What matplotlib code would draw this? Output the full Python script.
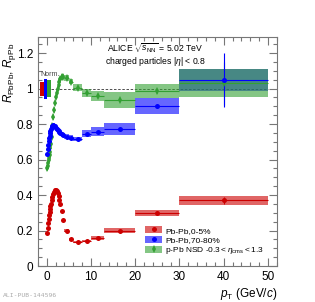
import numpy as np
import matplotlib.pyplot as plt
from matplotlib.patches import Rectangle, Patch
from matplotlib.lines import Line2D
from matplotlib.ticker import MultipleLocator

plt.rcParams['font.family'] = ['Liberation Sans', 'DejaVu Sans']
plt.rcParams['mathtext.fontset'] = 'custom'
plt.rcParams['mathtext.rm'] = 'Liberation Sans'
plt.rcParams['mathtext.it'] = 'Liberation Sans:italic'
plt.rcParams['mathtext.bf'] = 'Liberation Sans:bold'

# pT bin edges (GeV/c), same binning for all three samples
edges = [0.15, 0.2, 0.3, 0.4, 0.5, 0.6, 0.7, 0.8, 0.9, 1.0,
         1.2, 1.4, 1.6, 1.8, 2.0, 2.2, 2.4, 2.6, 2.8, 3.0, 3.2,
         3.6, 4.0, 5.0, 6.0, 8.0, 10.0, 13.0, 20.0, 30.0, 50.0]

# Pb-Pb 0-5%
raa_central = [0.184, 0.215, 0.245, 0.268, 0.288, 0.306, 0.322, 0.337, 0.35,
               0.37, 0.39, 0.408, 0.42, 0.428, 0.43, 0.422, 0.41, 0.395,
               0.375, 0.35, 0.31, 0.26, 0.20, 0.15, 0.135, 0.14, 0.16, 0.20,
               0.30, 0.37]
# Pb-Pb 70-80%
raa_periph = [0.63, 0.66, 0.685, 0.705, 0.72, 0.735, 0.748, 0.76, 0.77,
              0.782, 0.79, 0.794, 0.792, 0.787, 0.78, 0.772, 0.766, 0.76,
              0.755, 0.75, 0.745, 0.738, 0.73, 0.724, 0.718, 0.745, 0.758,
              0.77, 0.90, 1.048]
# p-Pb NSD
rppb = [0.55, 0.565, 0.58, 0.595, 0.61, 0.625, 0.645, 0.665, 0.69,
        0.73, 0.79, 0.84, 0.88, 0.92, 0.95, 0.975, 1.0, 1.02, 1.04,
        1.055, 1.065, 1.068, 1.06, 1.04, 1.005, 0.973, 0.96, 0.935,
        0.988, 1.03]

# systematic uncertainties
sys_central = [0.008] * 24 + [0.006, 0.007, 0.012, 0.014, 0.018, 0.025]
sys_periph = [0.012] * 25 + [0.019, 0.023, 0.034, 0.045, 0.06]
sys_ppb = [0.015] * 24 + [0.02, 0.023, 0.028, 0.045, 0.04, 0.08]

# statistical uncertainties
stat_central = [0.0] * 28 + [0.008, 0.02]
stat_periph = [0.0] * 28 + [0.01, 0.15]
stat_ppb = [0.0] * 28 + [0.01, 0.12]

# normalisation uncertainties (boxes at unity)
norm_unc = [0.04, 0.056, 0.049]
norm_x = [-1.4, -0.6, 0.15]
norm_w = [0.8, 0.6, 0.8]

labels = ['Pb-Pb,0-5%', 'Pb-Pb,70-80%',
          r'p-Pb NSD -0.3$<\eta_{\rm cms}<$1.3']

red = '#cc0000'
blue = '#0000ff'
green = '#33a033'

edges = np.array(edges)
centers = 0.5 * (edges[1:] + edges[:-1])
half = 0.5 * (edges[1:] - edges[:-1])

fig = plt.figure(figsize=(3.15, 3.02), dpi=100)
ax = fig.add_axes([0.12, 0.119, 0.759, 0.758])

series = [
    (raa_central, sys_central, stat_central, red, 'o', 3.6),
    (raa_periph, sys_periph, stat_periph, blue, 'o', 3.6),
    (rppb, sys_ppb, stat_ppb, green, 'd', 4.0),
]

# boxes first
for vals, sys, stat, col, mk, ms in series:
    for i in range(len(vals)):
        ax.add_patch(Rectangle((edges[i], vals[i] - sys[i]), 2 * half[i],
                               2 * sys[i], facecolor=col, alpha=0.6,
                               edgecolor='none', zorder=2))

for vals, sys, stat, col, mk, ms in series[::-1]:
    ax.errorbar(centers, vals, xerr=half, yerr=stat,
                fmt=mk, color=col, ms=ms, mew=0, elinewidth=0.8,
                capsize=0, zorder=4)

# normalisation boxes
for x0, w, u, col in zip(norm_x, norm_w, norm_unc, [red, blue, green]):
    ax.add_patch(Rectangle((x0, 1 - u), w, 2 * u, facecolor=col,
                           edgecolor='none', zorder=3))
ax.text(-1.5, 1.08, 'Norm.', fontsize=5, color='#444444', ha='left',
        va='center')

ax.hlines(1.0, 1.0, 50.0, colors='#333333', linestyles=(0, (3, 2)),
          linewidth=0.6, zorder=1)

ax.set_xlim(-2, 52)
ax.set_ylim(0, 1.29)
ax.xaxis.set_major_locator(MultipleLocator(10))
ax.xaxis.set_minor_locator(MultipleLocator(2))
ax.yaxis.set_major_locator(MultipleLocator(0.2))
ax.yaxis.set_minor_locator(MultipleLocator(0.05))
ax.yaxis.set_major_formatter(plt.FuncFormatter(
    lambda v, p: '0' if abs(v) < 1e-9 else ('1' if abs(v - 1) < 1e-9 else f'{v:.1f}')))
ax.tick_params(which='both', direction='in', top=True, right=True,
               color='#777777', labelsize=8.5, width=0.8)
ax.tick_params(which='major', length=6)
ax.tick_params(which='minor', length=3)
for s in ax.spines.values():
    s.set_color('#777777')
    s.set_linewidth(0.8)

ax.set_xlabel(r'$p_{\rm T}$ (GeV/$c$)', fontsize=8.5, ha='right', x=1.0,
              labelpad=2)
ax.set_ylabel(r'$R_{\rm PbPb}$, $R_{\rm pPb}$', fontsize=8.5, ha='right',
              va='center')
ax.yaxis.set_label_coords(-0.118, 0.975)

ax.text(0.49, 0.952, r'ALICE $\sqrt{s_{\rm NN}}$ = 5.02 TeV',
        transform=ax.transAxes, fontsize=6.2, ha='center', va='center')
ax.text(0.49, 0.893, r'charged particles |$\eta$| < 0.8',
        transform=ax.transAxes, fontsize=6.2, ha='center', va='center')

handles = []
for col, mk, ms in [(red, 'o', 3.6), (blue, 'o', 3.6), (green, 'd', 4.0)]:
    handles.append((Patch(facecolor=col, alpha=0.6, edgecolor='none'),
                    Line2D([], [], color=col, marker=mk, ls='', ms=ms, mew=0)))
ax.legend(handles, labels, loc='upper left', bbox_to_anchor=(0.45, 0.175),
          frameon=False, fontsize=6, handlelength=2.0, handleheight=1.0,
          labelspacing=0.12, handletextpad=0.4, borderpad=0, borderaxespad=0)

fig.text(0.01, 0.012, 'ALI-PUB-144596', fontsize=4.6, color='#aaaaaa',
         family='DejaVu Sans Mono', ha='left', va='bottom')

fig.savefig('out.png', dpi=100)
